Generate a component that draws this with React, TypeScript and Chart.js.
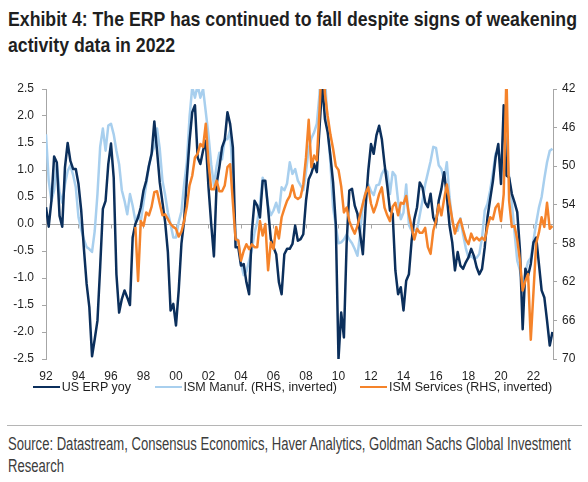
import React, { useEffect, useLayoutEffect, useRef } from "react";
import { Chart, registerables } from "chart.js";

Chart.register(...registerables);

// Bi-monthly observations starting Jan 1992
const START_YEAR = 1992;
const STEP_YEARS = 1 / 6;

// US ERP yoy (LHS)
const erpYoy: number[] = [
  0.31, -0.05, 0.43, 1.25, 1.14, 0.15, -0.05, 1.05, 1.5, 1.17, 1.02, 1.02,
  0.74, 0.25, -0.46, -1.11, -1.54, -2.45, -2.13, -1.79, -0.8, 0.28, 0.43, 1.11,
  1.49, 0.86, -0.93, -1.64, -1.39, -1.23, -1.36, -1.5, -0.25, 0.0, 0.12, 0.31,
  0.62, 0.8, 1.08, 1.3, 1.9, 1.36, 0.77, 0.4, 0.03, -0.52, -1.6, -1.48,
  -1.88, -1.23, -0.37, 0.06, 0.83, 1.54, 2.07, 2.2, 1.23, 1.11, 1.36, 1.54,
  0.68, 0.0, -0.6, 0.74, 1.05, 1.42, 1.56, 2.07, 1.85, 1.42, -0.43, -0.43,
  -0.77, -0.74, -1.08, -1.3, -0.15, 0.43, 0.34, 0.12, 0.8, 0.8, 0.28, -0.28,
  -0.43, -0.56, -1.08, -1.3, -0.56, -0.46, -0.46, -0.37, -0.03, -0.31, -0.28, -0.19,
  0.43, 0.83, 0.94, 1.11, 0.96, 1.79, 2.6, 1.94, 1.7, 1.27, 0.77, 0.0,
  -2.5, -1.64, -2.1, -0.37, 0.62, 0.65, 0.34, 0.19, -0.19, -0.56, 0.31, 0.99,
  1.48, 1.3, 1.64, 1.82, 1.57, 1.11, 0.71, 0.25, 0.19, -0.86, -1.3, -1.17,
  -1.6, -1.05, -0.93, -0.31, 0.09, 0.31, 0.77, 0.68, 0.4, 0.31, 0.56, 0.12,
  0.0, 0.43, 0.65, 0.96, 0.52, -0.03, -0.34, -0.86, -0.52, -0.77, -0.83, -0.71,
  -0.62, -0.46, -0.59, -0.8, -0.93, -0.83, -0.43, 0.12, 0.46, 0.79, 1.23, 1.48,
  0.74, 2.2, 0.9, 0.86, 0.56, 0.4, 0.22, -0.49, -1.95, -0.83, -0.96, -0.74,
  -0.34, -0.25, -0.74, -1.23, -1.36, -1.79, -2.25, -2.0,
];

// ISM Manufacturing (RHS, inverted)
const ismManuf: number[] = [
  46.7, 51.5, 53.6, 52.5, 49.8, 52.7, 53.8, 51.9, 50.5, 49.9, 50.9, 52.2,
  55.3, 56.6, 57.6, 58.4, 58.6, 58.9, 56.7, 52.9, 48.0, 46.1, 48.4, 45.8,
  45.6, 46.7, 48.4, 49.8, 52.5, 53.6, 55.0, 52.9, 54.1, 55.7, 55.1, 55.7,
  53.8, 51.9, 50.0, 48.7, 48.0, 46.1, 48.2, 51.5, 53.0, 54.8, 56.0, 57.4,
  57.4, 55.8, 54.7, 51.9, 49.6, 44.9, 41.8, 42.9, 41.6, 42.9, 42.0, 44.4,
  46.8, 49.8, 52.0, 50.0, 48.6, 49.3, 47.2, 47.2, 46.3, 51.5, 57.4, 57.7,
  60.1, 61.3, 60.9, 59.8, 58.7, 56.9, 55.8, 53.9, 51.2, 52.0, 54.1, 55.1,
  54.6, 53.8, 54.8, 52.2, 52.5, 51.8, 49.6, 50.8, 50.3, 51.5, 52.0, 52.5,
  50.6, 48.2, 47.1, 46.5, 45.6, 42.5, 36.0, 40.5, 46.0, 49.6, 54.3, 56.2,
  58.0, 57.9, 57.6, 57.1, 57.6, 58.0, 58.6, 59.3, 57.0, 53.9, 52.7, 51.9,
  52.6, 53.0, 52.0, 51.9, 50.8, 50.3, 50.6, 52.9, 50.6, 51.0, 53.6, 55.5,
  54.8, 51.9, 56.1, 56.7, 56.7, 56.6, 55.1, 53.6, 51.9, 50.7, 49.5, 48.0,
  48.1, 49.9, 50.3, 51.5, 49.6, 53.2, 55.7, 56.7, 56.7, 55.4, 57.1, 58.5,
  59.5, 59.3, 59.6, 59.5, 59.1, 57.4, 54.6, 53.9, 52.5, 50.7, 48.7, 48.4,
  49.9, 46.1, 47.5, 51.2, 53.8, 56.9, 59.8, 60.8, 62.4, 61.0, 59.9, 59.5,
  57.7, 55.9, 54.3, 53.2, 51.3, 49.6, 48.4, 48.2,
];

// ISM Services (RHS, inverted) - series starts mid-1997
const SERVICES_START_INDEX = 33;
const ismServicesValues: number[] = [
  56.3, 61.9, 55.7,
  56.2, 54.8, 55.1, 54.2, 52.7, 52.6, 53.9, 55.1, 55.0, 55.5, 56.0, 56.3,
  56.5, 57.3, 56.8, 55.7, 54.2, 52.0, 51.0, 49.1, 48.7, 47.7, 48.0, 45.6,
  49.6, 52.4, 52.4, 51.5, 52.6, 52.6, 52.0, 50.1, 49.8, 53.8, 57.6, 57.7,
  59.8, 58.8, 58.1, 58.6, 58.1, 58.4, 58.4, 55.7, 57.2, 56.0, 60.8, 57.9,
  58.6, 56.3, 57.5, 55.3, 54.4, 53.6, 53.1, 52.0, 53.2, 53.4, 53.2, 51.9,
  49.1, 45.2, 50.1, 48.9, 49.4, 44.2, 38.0, 42.5, 44.8, 46.7, 48.2, 50.0,
  50.4, 52.1, 54.8, 54.3, 55.7, 56.4, 57.0, 56.2, 55.0, 53.9, 52.8, 52.2,
  53.9, 54.8, 54.0, 52.9, 52.2, 54.3, 55.1, 55.7, 54.2, 53.8, 55.1, 53.8,
  53.9, 53.1, 55.0, 56.3, 57.6, 56.5, 56.9, 56.9, 56.4, 58.4, 59.1, 56.7,
  55.7, 54.0, 55.1, 53.4, 51.9, 53.8, 55.5, 57.0, 56.0, 55.5, 56.6, 57.6,
  58.1, 57.0, 57.7, 57.4, 57.7, 57.4, 57.7, 56.3, 55.3, 55.5, 54.3, 53.9,
  55.7, 52.9, 40.5, 53.6, 56.3, 56.2, 57.6, 59.8, 62.9, 61.9, 61.2, 68.0,
  63.0, 58.0, 56.9, 55.3, 56.3, 53.8, 56.5, 56.2,
];

const SERIES_LABELS = [
  "US ERP yoy",
  "ISM Manuf. (RHS, inverted)",
  "ISM Services (RHS, inverted)",
];
const SERIES_COLORS = ["#0b2f5c", "#a8cfee", "#f5832a"];

const LEFT_AXIS = { min: -2.5, max: 2.5, step: 0.5 };
const RIGHT_AXIS = { min: 42, max: 70, step: 4 };
const X_AXIS = { min: 1992, max: 2023.2, step: 2 };

const TITLE_LINES = [
  "Exhibit 4: The ERP has continued to fall despite signs of weakening",
  "activity data in 2022",
];
const SOURCE_LINES = [
  "Source: Datastream, Consensus Economics, Haver Analytics, Goldman Sachs Global Investment",
  "Research",
];

const AXIS_GREY = "#a6a6a6";
const TEXT_COLOR = "#1f1f1f";
const FONT = "'Liberation Sans', Arial, Helvetica, sans-serif";

const zeroLinePlugin = {
  id: "zeroLine",
  beforeDatasetsDraw(chart: any) {
    const { ctx, chartArea, scales } = chart;
    const y = Math.round(scales.yL.getPixelForValue(0)) + 0.5;
    ctx.save();
    ctx.strokeStyle = AXIS_GREY;
    ctx.lineWidth = 1;
    ctx.beginPath();
    ctx.moveTo(chartArea.left, y);
    ctx.lineTo(chartArea.right, y);
    for (const t of scales.x.ticks) {
      const x = Math.round(scales.x.getPixelForValue(t.value)) + 0.5;
      ctx.moveTo(x, y);
      ctx.lineTo(x, y + 4);
    }
    ctx.stroke();
    ctx.restore();
  },
};

function ChartCanvas() {
  const ref = useRef<HTMLCanvasElement | null>(null);
  useEffect(() => {
    if (!ref.current) return;
    const dates = erpYoy.map((_, i) => START_YEAR + i * STEP_YEARS);
    const services: (number | null)[] = dates.map((_, i) =>
      i >= SERVICES_START_INDEX ? ismServicesValues[i - SERVICES_START_INDEX] ?? null : null
    );
    const tickFont = { family: FONT, size: 12 };
    const chart = new Chart(ref.current, {
      type: "line",
      data: {
        datasets: [
          {
            label: SERIES_LABELS[0],
            data: dates.map((x, i) => ({ x, y: erpYoy[i] })),
            borderColor: SERIES_COLORS[0],
            yAxisID: "yL",
            order: 1,
          },
          {
            label: SERIES_LABELS[1],
            data: dates.map((x, i) => ({ x, y: ismManuf[i] })),
            borderColor: SERIES_COLORS[1],
            yAxisID: "yR",
            order: 2,
          },
          {
            label: SERIES_LABELS[2],
            data: dates.map((x, i) => ({ x, y: services[i] })),
            borderColor: SERIES_COLORS[2],
            yAxisID: "yR",
            order: 0,
          },
        ] as any,
      },
      options: {
        animation: false,
        responsive: false,
        devicePixelRatio: 1,
        layout: { padding: { top: 29, bottom: 0, left: 0, right: 0 } },
        elements: {
          line: { borderWidth: 2.5, tension: 0, borderJoinStyle: "round" },
          point: { radius: 0, hoverRadius: 0 },
        },
        plugins: { legend: { display: false }, tooltip: { enabled: false } },
        scales: {
          x: {
            type: "linear",
            min: X_AXIS.min,
            max: X_AXIS.max,
            border: { display: false },
            grid: { display: false, drawTicks: false },
            ticks: {
              stepSize: X_AXIS.step,
              includeBounds: false,
              autoSkip: false,
              maxRotation: 0,
              padding: 10,
              color: TEXT_COLOR,
              font: tickFont,
              callback: (v: any) => String(v).slice(2),
            },
            afterFit: (s: any) => {
              s.height = 41;
            },
          },
          yL: {
            type: "linear",
            position: "left",
            min: LEFT_AXIS.min,
            max: LEFT_AXIS.max,
            border: { display: true, color: AXIS_GREY, width: 1 },
            grid: {
              display: true,
              drawOnChartArea: false,
              drawTicks: true,
              tickLength: 4,
              color: AXIS_GREY,
            },
            ticks: {
              stepSize: LEFT_AXIS.step,
              padding: 8,
              color: TEXT_COLOR,
              font: tickFont,
              callback: (v: any) => Number(v).toFixed(1),
            },
            afterFit: (s: any) => {
              s.width = 46;
            },
          },
          yR: {
            type: "linear",
            position: "right",
            reverse: true,
            min: RIGHT_AXIS.min,
            max: RIGHT_AXIS.max,
            border: { display: true, color: AXIS_GREY, width: 1 },
            grid: {
              display: true,
              drawOnChartArea: false,
              drawTicks: true,
              tickLength: 4,
              color: AXIS_GREY,
            },
            ticks: {
              stepSize: RIGHT_AXIS.step,
              padding: 5,
              color: TEXT_COLOR,
              font: tickFont,
              callback: (v: any) => String(v),
            },
            afterFit: (s: any) => {
              s.width = 35;
            },
          },
        },
      } as any,
      plugins: [zeroLinePlugin],
    });
    return () => chart.destroy();
  }, []);
  return (
    <canvas
      ref={ref}
      width={588}
      height={340}
      style={{ position: "absolute", left: 0, top: 60, width: 588, height: 340 }}
    />
  );
}

function Legend() {
  const lefts = [32.7, 154.5, 360];
  return (
    <>
      {SERIES_LABELS.map((label, i) => (
        <div
          key={label}
          style={{
            position: "absolute",
            left: lefts[i],
            top: 380,
            height: 14,
            display: "flex",
            alignItems: "center",
            whiteSpace: "nowrap",
            fontFamily: FONT,
            fontSize: 12.5,
            lineHeight: "14px",
            color: TEXT_COLOR,
          }}
        >
          <div style={{ width: 27, height: 2.5, background: SERIES_COLORS[i], marginRight: 2 }} />
          <span>{label}</span>
        </div>
      ))}
    </>
  );
}

export default function App() {
  const t1 = useRef<HTMLSpanElement | null>(null);
  const t2 = useRef<HTMLSpanElement | null>(null);
  const s1 = useRef<HTMLSpanElement | null>(null);
  const s2 = useRef<HTMLSpanElement | null>(null);

  useLayoutEffect(() => {
    const fit = (a: HTMLSpanElement | null, b: HTMLSpanElement | null, target: number) => {
      if (!a) return;
      const w = a.getBoundingClientRect().width;
      const k = w > 0 ? target / w : 1;
      a.style.transform = `scaleX(${k})`;
      if (b) b.style.transform = `scaleX(${k})`;
    };
    fit(t1.current, t2.current, 569);
    fit(s1.current, s2.current, 563);
  }, []);

  const titleStyle: React.CSSProperties = {
    position: "absolute",
    left: 8,
    fontFamily: FONT,
    fontWeight: "bold",
    fontSize: 21,
    lineHeight: "26px",
    color: TEXT_COLOR,
    whiteSpace: "nowrap",
  };
  const srcStyle: React.CSSProperties = {
    position: "absolute",
    left: 8,
    fontFamily: FONT,
    fontSize: 17.5,
    lineHeight: "22px",
    color: "#3c3c3c",
    whiteSpace: "nowrap",
  };
  const spanStyle: React.CSSProperties = { display: "inline-block", transformOrigin: "0 0" };

  return (
    <div
      style={{
        position: "absolute",
        left: 0,
        top: 0,
        width: 588,
        height: 482,
        background: "#ffffff",
        overflow: "hidden",
      }}
    >
      <div style={{ ...titleStyle, top: 5.7 }}>
        <span ref={t1} style={spanStyle}>{TITLE_LINES[0]}</span>
      </div>
      <div style={{ ...titleStyle, top: 32 }}>
        <span ref={t2} style={spanStyle}>{TITLE_LINES[1]}</span>
      </div>
      <ChartCanvas />
      <Legend />
      <div
        style={{
          position: "absolute",
          left: 7,
          top: 425,
          width: 575,
          height: 1,
          background: "#b5b5b5",
        }}
      />
      <div style={{ ...srcStyle, top: 433 }}>
        <span ref={s1} style={spanStyle}>{SOURCE_LINES[0]}</span>
      </div>
      <div style={{ ...srcStyle, top: 454.6 }}>
        <span ref={s2} style={spanStyle}>{SOURCE_LINES[1]}</span>
      </div>
    </div>
  );
}
